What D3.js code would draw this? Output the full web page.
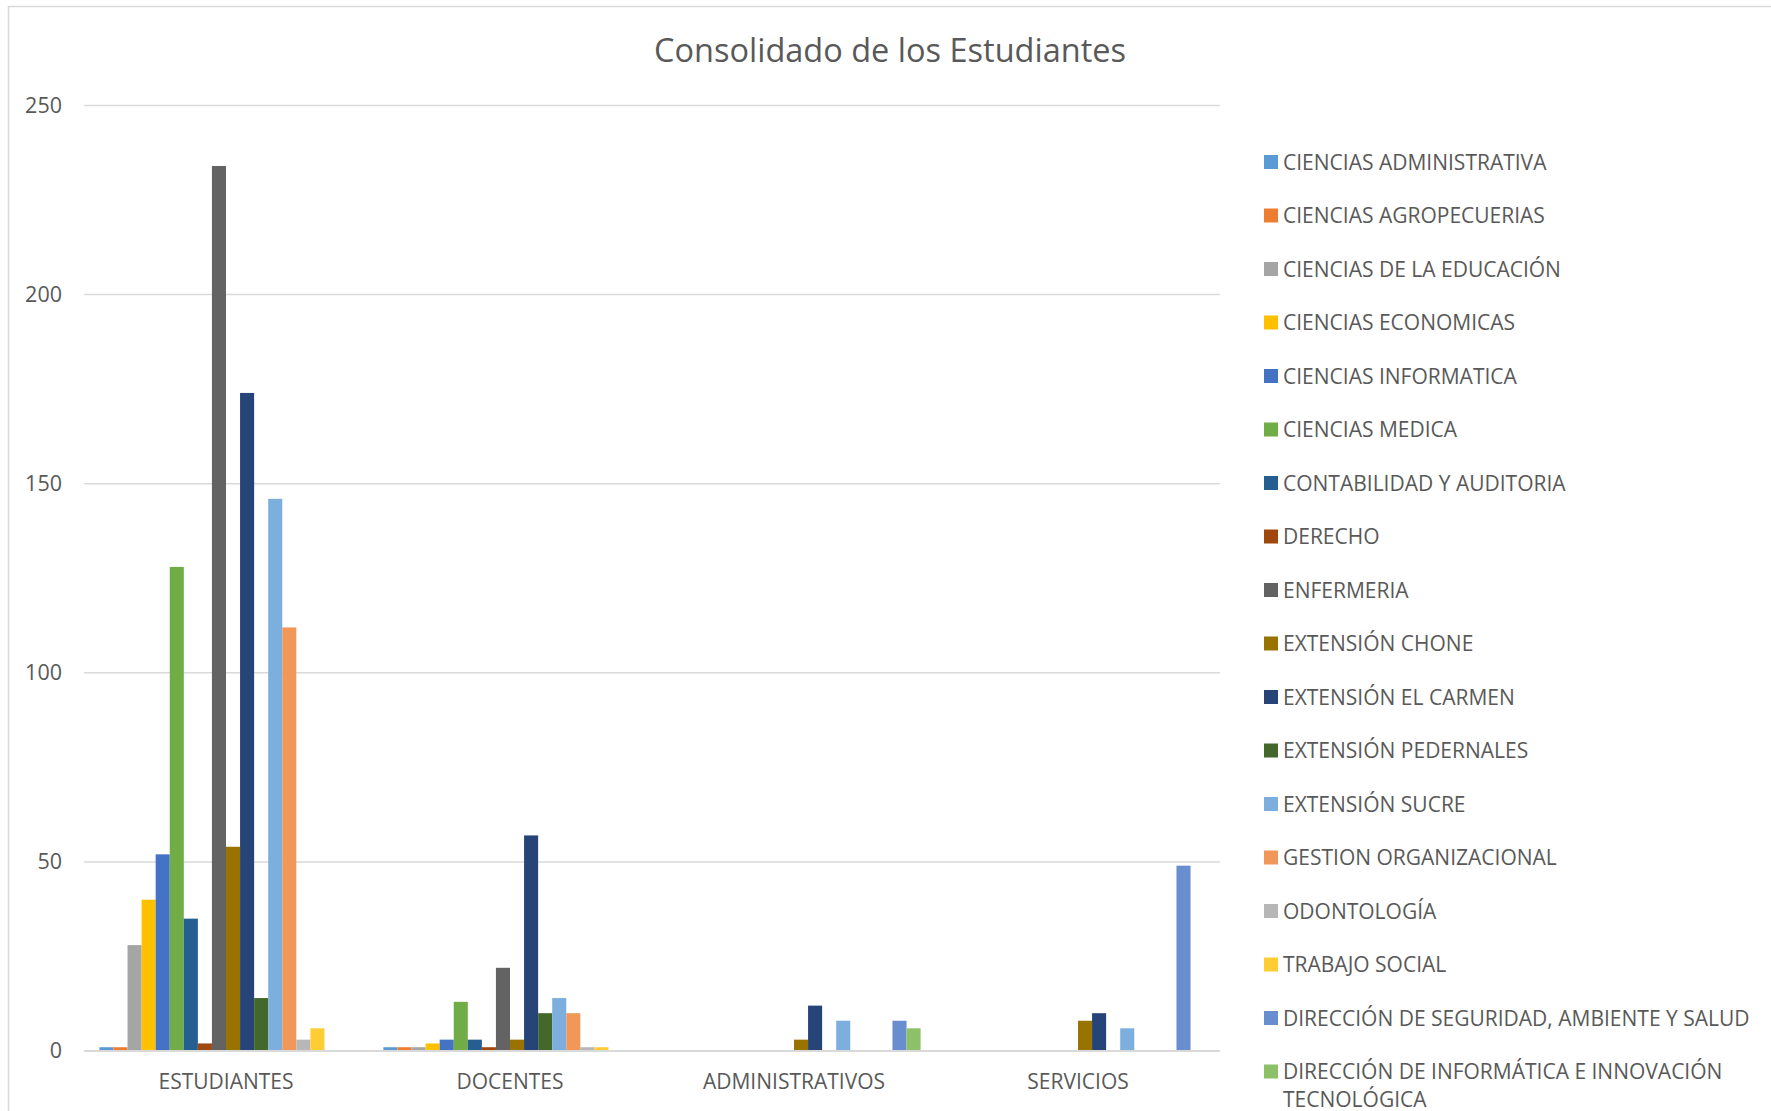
<!DOCTYPE html>
<html>
<head>
<meta charset="utf-8">
<script src="https://cdn.jsdelivr.net/npm/d3@7/dist/d3.min.js"></script>
<style>
  html, body { margin: 0; padding: 0; background: #ffffff; }
  svg { display: block; font-family: "Open Sans", "Noto Sans", sans-serif; }
</style>
</head>
<body>
<svg id="chart" width="1771" height="1111"></svg>
<script>
// Grouped bars: people per faculty / extension across four groups
const categories = ["ESTUDIANTES", "DOCENTES", "ADMINISTRATIVOS", "SERVICIOS"];

const seriesNames = [
  "CIENCIAS ADMINISTRATIVA",
  "CIENCIAS AGROPECUERIAS",
  "CIENCIAS DE LA EDUCACIÓN",
  "CIENCIAS ECONOMICAS",
  "CIENCIAS INFORMATICA",
  "CIENCIAS MEDICA",
  "CONTABILIDAD Y AUDITORIA",
  "DERECHO",
  "ENFERMERIA",
  "EXTENSIÓN CHONE",
  "EXTENSIÓN EL CARMEN",
  "EXTENSIÓN PEDERNALES",
  "EXTENSIÓN SUCRE",
  "GESTION ORGANIZACIONAL",
  "ODONTOLOGÍA",
  "TRABAJO SOCIAL",
  "DIRECCIÓN DE SEGURIDAD, AMBIENTE Y SALUD",
  "DIRECCIÓN DE INFORMÁTICA E INNOVACIÓN TECNOLÓGICA"
];

// One value per category (ESTUDIANTES, DOCENTES, ADMINISTRATIVOS, SERVICIOS)
const cienciasAdministrativa = [1, 1, 0, 0];
const cienciasAgropecuerias  = [1, 1, 0, 0];
const cienciasEducacion      = [28, 1, 0, 0];
const cienciasEconomicas     = [40, 2, 0, 0];
const cienciasInformatica    = [52, 3, 0, 0];
const cienciasMedica         = [128, 13, 0, 0];
const contabilidadAuditoria  = [35, 3, 0, 0];
const derecho                = [2, 1, 0, 0];
const enfermeria             = [234, 22, 0, 0];
const extensionChone         = [54, 3, 3, 8];
const extensionElCarmen      = [174, 57, 12, 10];
const extensionPedernales    = [14, 10, 0, 0];
const extensionSucre         = [146, 14, 8, 6];
const gestionOrganizacional  = [112, 10, 0, 0];
const odontologia            = [3, 1, 0, 0];
const trabajoSocial          = [6, 1, 0, 0];
const dirSeguridad           = [0, 0, 8, 49];
const dirInformatica         = [0, 0, 6, 0];

const seriesValues = [
  cienciasAdministrativa, cienciasAgropecuerias, cienciasEducacion, cienciasEconomicas,
  cienciasInformatica, cienciasMedica, contabilidadAuditoria, derecho, enfermeria,
  extensionChone, extensionElCarmen, extensionPedernales, extensionSucre,
  gestionOrganizacional, odontologia, trabajoSocial, dirSeguridad, dirInformatica
];

const yTicks = [0, 50, 100, 150, 200, 250];

const colors = [
  "#5B9BD5", "#ED7D31", "#A5A5A5", "#FFC000", "#4472C4", "#70AD47",
  "#255E91", "#9E480E", "#636363", "#997300", "#264478", "#43682B",
  "#7CAFDD", "#F1975A", "#B7B7B7", "#FFCD33", "#698ED0", "#8CC168"
];

const svg = d3.select("#chart");
const textColor = "#595959";
const gridColor = "#D9D9D9";

// chart frame
svg.append("rect")
  .attr("x", 8.5).attr("y", 6.5)
  .attr("width", 1800).attr("height", 1200)
  .attr("fill", "none").attr("stroke", gridColor).attr("stroke-width", 1.5);

const plot = { left: 84, right: 1220, top: 105.5, bottom: 1051 };

const x0 = d3.scaleBand().domain(categories).range([plot.left, plot.right]).padding(0);
const x1 = d3.scaleBand().domain(d3.range(seriesNames.length))
  .range([0, x0.bandwidth()]).paddingInner(0).paddingOuter(1.095);
const y = d3.scaleLinear().domain([0, 250]).range([plot.bottom, plot.top]);

// title
svg.append("text")
  .attr("x", 890).attr("y", 62)
  .attr("text-anchor", "middle")
  .attr("fill", textColor)
  .attr("font-size", 32.5)
  .text("Consolidado de los Estudiantes");

// gridlines
svg.append("g").selectAll("line")
  .data(yTicks)
  .join("line")
  .attr("x1", plot.left).attr("x2", plot.right)
  .attr("y1", d => y(d)).attr("y2", d => y(d))
  .attr("stroke", gridColor).attr("stroke-width", 1.5);

// y axis labels
const yAxis = svg.append("g")
  .attr("transform", `translate(${plot.left - 22},0)`)
  .call(d3.axisLeft(y).tickValues(yTicks).tickSize(0).tickPadding(0));
yAxis.select(".domain").remove();
yAxis.selectAll("text")
  .attr("fill", textColor)
  .attr("font-size", 21.5)
  .attr("font-family", "Open Sans, sans-serif");

// bars
const groups = svg.append("g").selectAll("g")
  .data(categories)
  .join("g")
  .attr("transform", d => `translate(${x0(d)},0)`);

groups.selectAll("rect")
  .data((c, ci) => seriesValues.map((vals, si) => ({ si, v: vals[ci] })))
  .join("rect")
  .attr("x", d => x1(d.si))
  .attr("width", x1.bandwidth())
  .attr("y", d => y(d.v))
  .attr("height", d => y(0) - y(d.v))
  .attr("fill", d => colors[d.si]);

// baseline
svg.append("line")
  .attr("x1", plot.left).attr("x2", plot.right)
  .attr("y1", y(0)).attr("y2", y(0))
  .attr("stroke", gridColor).attr("stroke-width", 2);

// category axis
const xAxis = svg.append("g")
  .attr("transform", `translate(0,${plot.bottom})`)
  .call(d3.axisBottom(x0).tickSize(0).tickPadding(23));
xAxis.select(".domain").remove();
xAxis.selectAll("text")
  .attr("fill", textColor)
  .attr("font-size", 21)
  .attr("font-family", "Open Sans, sans-serif");

// legend
const legend = svg.append("g");
const legendX = 1264, legendY0 = 162, legendStep = 53.5, legendFont = 21;
seriesNames.forEach((name, i) => {
  const cy = legendY0 + i * legendStep;
  legend.append("rect")
    .attr("x", legendX).attr("y", cy - 7)
    .attr("width", 14).attr("height", 14)
    .attr("fill", colors[i]);
  const t = legend.append("text")
    .attr("x", legendX + 19).attr("y", cy)
    .attr("dy", "0.36em")
    .attr("fill", textColor)
    .attr("font-size", legendFont);
  if (name.startsWith("DIRECCIÓN DE INFORMÁTICA")) {
    t.text("DIRECCIÓN DE INFORMÁTICA E INNOVACIÓN");
    legend.append("text")
      .attr("x", legendX + 19).attr("y", cy + 28)
      .attr("dy", "0.36em")
      .attr("fill", textColor)
      .attr("font-size", legendFont)
      .text("TECNOLÓGICA");
  } else {
    t.text(name);
  }
});
</script>
</body>
</html>
